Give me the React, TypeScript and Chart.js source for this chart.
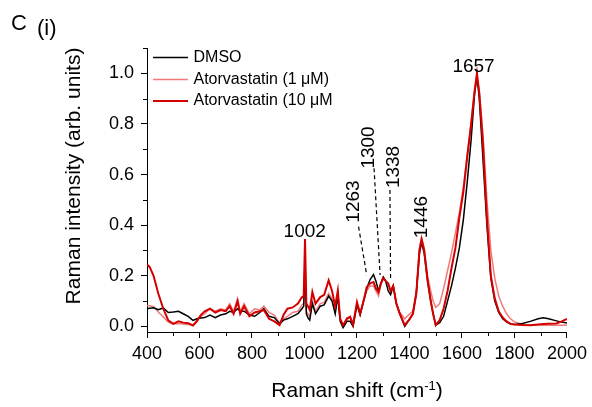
import { useEffect, useRef } from 'react';
import { Chart, registerables } from 'chart.js';

Chart.register(...registerables);

const FONT = '"Liberation Sans", Arial, Helvetica, sans-serif';

const wavenumbers = [
  400, 410, 425, 443, 462, 481, 500, 520, 538, 557, 575, 590, 605, 620, 640, 660, 680, 700, 715, 730,
  745, 755, 770, 790, 810, 830, 845, 865, 885, 905, 920, 935, 955, 975, 990, 997, 1002, 1007, 1013, 1020,
  1030, 1042, 1060, 1075, 1092, 1105, 1117, 1127, 1136, 1147, 1162, 1174, 1185, 1200, 1212, 1225, 1237, 1250, 1263, 1272,
  1282, 1291, 1300, 1309, 1319, 1328, 1338, 1350, 1363, 1382, 1401, 1413, 1426, 1438, 1446, 1456, 1469, 1481, 1490, 1500,
  1515, 1530, 1545, 1560, 1575, 1590, 1605, 1620, 1635, 1648, 1657, 1666, 1680, 1695, 1710, 1725, 1740, 1755, 1770, 1785,
  1800, 1830, 1860, 1890, 1910, 1930, 1960, 1980, 2000,
];

const dmso = [
  0.070, 0.072, 0.074, 0.066, 0.073, 0.055, 0.057, 0.060, 0.050, 0.040, 0.024, 0.030, 0.033, 0.035, 0.045, 0.035, 0.045, 0.050, 0.060, 0.055,
  0.070, 0.060, 0.060, 0.045, 0.040, 0.055, 0.070, 0.040, 0.035, 0.010, 0.025, 0.030, 0.040, 0.050, 0.070, 0.080, 0.240, 0.050, 0.035, 0.025,
  0.090, 0.050, 0.080, 0.085, 0.120, 0.100, 0.050, 0.120, 0.020, -0.005, 0.020, 0.020, 0.000, 0.085, 0.045, 0.100, 0.150, 0.185, 0.205, 0.180,
  0.140, 0.170, 0.195, 0.180, 0.140, 0.125, 0.160, 0.090, 0.050, 0.000, 0.030, 0.050, 0.130, 0.290, 0.330, 0.290, 0.180, 0.100, 0.050, 0.005,
  0.015, 0.040, 0.100, 0.160, 0.230, 0.310, 0.420, 0.570, 0.740, 0.920, 0.990, 0.900, 0.660, 0.400, 0.190, 0.100, 0.055, 0.030, 0.018, 0.010,
  0.008, 0.012, 0.020, 0.030, 0.034, 0.030, 0.022, 0.017, 0.014,
];

const atorva1 = [
  0.083, 0.082, 0.078, 0.057, 0.037, 0.017, 0.010, 0.012, 0.010, 0.008, 0.005, 0.025, 0.040, 0.050, 0.070, 0.060, 0.070, 0.065, 0.090, 0.060,
  0.110, 0.060, 0.090, 0.050, 0.070, 0.065, 0.080, 0.055, 0.045, 0.015, 0.030, 0.040, 0.055, 0.060, 0.085, 0.090, 0.270, 0.060, 0.050, 0.040,
  0.100, 0.060, 0.090, 0.095, 0.130, 0.110, 0.060, 0.130, 0.030, 0.005, 0.035, 0.035, 0.010, 0.090, 0.050, 0.100, 0.140, 0.160, 0.160, 0.140,
  0.120, 0.165, 0.195, 0.180, 0.165, 0.140, 0.160, 0.090, 0.055, 0.030, 0.050, 0.060, 0.140, 0.310, 0.350, 0.310, 0.200, 0.140, 0.100, 0.075,
  0.090, 0.150, 0.220, 0.290, 0.370, 0.450, 0.550, 0.680, 0.810, 0.930, 0.990, 0.930, 0.760, 0.500, 0.300, 0.190, 0.120, 0.080, 0.050, 0.030,
  0.018, 0.008, 0.006, 0.006, 0.005, 0.005, 0.005, 0.005, 0.005,
];

const atorva10 = [
  0.245, 0.235, 0.200, 0.130, 0.070, 0.024, 0.010, 0.020, 0.015, 0.013, 0.004, 0.020, 0.045, 0.060, 0.070, 0.055, 0.065, 0.060, 0.080, 0.050,
  0.100, 0.050, 0.080, 0.040, 0.055, 0.060, 0.065, 0.030, 0.020, 0.005, 0.045, 0.070, 0.075, 0.090, 0.115, 0.120, 0.345, 0.090, 0.080, 0.065,
  0.136, 0.090, 0.116, 0.125, 0.182, 0.140, 0.080, 0.142, 0.030, 0.005, 0.030, 0.038, 0.006, 0.096, 0.050, 0.100, 0.155, 0.170, 0.175, 0.150,
  0.135, 0.170, 0.190, 0.180, 0.170, 0.140, 0.160, 0.090, 0.050, 0.005, 0.030, 0.050, 0.130, 0.300, 0.345, 0.300, 0.180, 0.100, 0.050, 0.005,
  0.025, 0.070, 0.140, 0.230, 0.310, 0.430, 0.530, 0.670, 0.800, 0.930, 1.000, 0.920, 0.720, 0.430, 0.200, 0.110, 0.060, 0.035, 0.020, 0.010,
  0.008, 0.006, 0.005, 0.008, 0.010, 0.011, 0.012, 0.020, 0.030,
];

const seriesLabels = ['DMSO', 'Atorvastatin (1 \u03bcM)', 'Atorvastatin (10 \u03bcM'];
const seriesColors = ['#000000', 'rgb(242,122,122)', 'rgb(212,0,0)'];
const seriesWidths = [1.5, 1.5, 2];

const xTicks = [400, 600, 800, 1000, 1200, 1400, 1600, 1800, 2000];
const xMinorTicks = [500, 700, 900, 1100, 1300, 1500, 1700, 1900];
const yTicks = [0, 0.2, 0.4, 0.6, 0.8, 1.0];
const yMinorTicks = [0.1, 0.3, 0.5, 0.7, 0.9, 1.1];

const peakLabels = ['1002', '1263', '1300', '1338', '1446', '1657'];
const peakLabelX = [1001, 1189, 1245, 1342, 1446, 1644];
const peakLabelY = [0.375, 0.4935, 0.707, 0.63, 0.432, 1.025];
const peakLabelRotated = [false, true, true, true, true, false];

const leaderStartX = [1206, 1265, 1325.5];
const leaderStartY = [0.394, 0.625, 0.539];
const leaderEndX = [1237, 1288, 1328];
const leaderEndY = [0.203, 0.203, 0.187];

const overlayPlugin = {
  id: 'overlay',
  afterDraw(chart: any) {
    const { ctx, chartArea, scales } = chart;
    const xs = scales.x;
    const ys = scales.y;
    ctx.save();

    // minor ticks
    ctx.strokeStyle = '#000';
    ctx.lineWidth = 1;
    xMinorTicks.forEach((v) => {
      const p = Math.round(xs.getPixelForValue(v)) + 0.5;
      ctx.beginPath();
      ctx.moveTo(p, chartArea.bottom);
      ctx.lineTo(p, chartArea.bottom + 4);
      ctx.stroke();
    });
    yMinorTicks.forEach((v) => {
      const p = Math.round(ys.getPixelForValue(v)) + 0.5;
      ctx.beginPath();
      ctx.moveTo(chartArea.left, p);
      ctx.lineTo(chartArea.left - 4, p);
      ctx.stroke();
    });

    // dashed leader lines
    ctx.setLineDash([4, 3]);
    ctx.lineWidth = 1.2;
    for (let i = 0; i < leaderStartX.length; i++) {
      ctx.beginPath();
      ctx.moveTo(xs.getPixelForValue(leaderStartX[i]), ys.getPixelForValue(leaderStartY[i]));
      ctx.lineTo(xs.getPixelForValue(leaderEndX[i]), ys.getPixelForValue(leaderEndY[i]));
      ctx.stroke();
    }
    ctx.setLineDash([]);

    // peak labels
    ctx.fillStyle = '#000';
    ctx.font = `19px ${FONT}`;
    ctx.textAlign = 'center';
    ctx.textBaseline = 'middle';
    peakLabels.forEach((t, i) => {
      const px = xs.getPixelForValue(peakLabelX[i]);
      const py = ys.getPixelForValue(peakLabelY[i]);
      ctx.save();
      ctx.translate(px, py);
      if (peakLabelRotated[i]) ctx.rotate(-Math.PI / 2);
      ctx.fillText(t, 0, 0);
      ctx.restore();
    });

    // legend
    const rowY = [chartArea.top + 9.5, chartArea.top + 31.5, chartArea.top + 53];
    ctx.font = `16px ${FONT}`;
    ctx.textAlign = 'left';
    ctx.textBaseline = 'middle';
    seriesLabels.forEach((lab, i) => {
      ctx.strokeStyle = seriesColors[i];
      ctx.lineWidth = seriesWidths[i];
      ctx.beginPath();
      ctx.moveTo(chartArea.left + 6, rowY[i]);
      ctx.lineTo(chartArea.left + 41, rowY[i]);
      ctx.stroke();
      ctx.fillStyle = '#000';
      ctx.fillText(lab, chartArea.left + 46.5, rowY[i]);
    });

    // y axis title
    ctx.save();
    ctx.font = `21px ${FONT}`;
    ctx.textAlign = 'center';
    ctx.textBaseline = 'alphabetic';
    ctx.translate(80, 176);
    ctx.rotate(-Math.PI / 2);
    ctx.fillText('Raman intensity (arb. units)', 0, 0);
    ctx.restore();

    // x axis title with superscript
    const main = 'Raman shift (cm';
    const sup = '-1';
    const close = ')';
    ctx.textAlign = 'left';
    ctx.textBaseline = 'alphabetic';
    ctx.font = `21px ${FONT}`;
    const w1 = ctx.measureText(main).width;
    const w3 = ctx.measureText(close).width;
    ctx.font = `13px ${FONT}`;
    const w2 = ctx.measureText(sup).width;
    const total = w1 + w2 + w3;
    const cx = (chartArea.left + chartArea.right) / 2;
    let x0 = cx - total / 2;
    const base = 397;
    ctx.font = `21px ${FONT}`;
    ctx.fillText(main, x0, base);
    ctx.font = `13px ${FONT}`;
    ctx.fillText(sup, x0 + w1, base - 7.5);
    ctx.font = `21px ${FONT}`;
    ctx.fillText(close, x0 + w1 + w2, base);

    // panel labels
    ctx.font = `22px ${FONT}`;
    ctx.fillText('C', 11, 30);
    ctx.fillText('(i)', 37, 34.5);

    ctx.restore();
  },
};

export default function App() {
  const ref = useRef<HTMLCanvasElement | null>(null);

  useEffect(() => {
    document.body.style.margin = '0';
    const canvas = ref.current;
    if (!canvas) return;
    const seriesValues = [dmso, atorva1, atorva10];
    const orders = [1, 2, 0];
    const chart = new Chart(canvas, {
      type: 'line',
      data: {
        datasets: seriesValues.map((vals, i) => ({
          label: seriesLabels[i],
          data: wavenumbers.map((w, j) => ({ x: w, y: vals[j] })),
          borderColor: seriesColors[i],
          borderWidth: seriesWidths[i],
          pointRadius: 0,
          tension: 0,
          fill: false,
          order: orders[i],
        })),
      },
      options: {
        responsive: false,
        animation: false,
        devicePixelRatio: 1,
        layout: { padding: { left: 0, right: 22, top: 48, bottom: 0 } },
        plugins: {
          legend: { display: false },
          tooltip: { enabled: false },
          title: { display: false },
        },
        scales: {
          x: {
            type: 'linear',
            min: 400,
            max: 2000,
            afterBuildTicks: (scale: any) => {
              scale.ticks = xTicks.map((v) => ({ value: v }));
            },
            afterFit: (scale: any) => {
              scale.height = 75;
            },
            ticks: {
              color: '#000',
              font: { family: FONT, size: 18 },
              padding: 5,
              maxRotation: 0,
              autoSkip: false,
              callback: (v: any) => String(v),
            },
            grid: {
              display: true,
              drawOnChartArea: false,
              drawTicks: true,
              tickLength: 6,
              color: '#000',
              lineWidth: 1,
            },
            border: { display: true, color: '#000', width: 1 },
          },
          y: {
            type: 'linear',
            min: -0.022,
            max: 1.1,
            afterBuildTicks: (scale: any) => {
              scale.ticks = yTicks.map((v) => ({ value: v }));
            },
            afterFit: (scale: any) => {
              scale.width = 147;
            },
            ticks: {
              color: '#000',
              font: { family: FONT, size: 18 },
              padding: 7,
              autoSkip: false,
              callback: (v: any) => Number(v).toFixed(1),
            },
            grid: {
              display: true,
              drawOnChartArea: false,
              drawTicks: true,
              tickLength: 6,
              color: '#000',
              lineWidth: 1,
            },
            border: { display: true, color: '#000', width: 1 },
          },
        },
      },
      plugins: [overlayPlugin],
    });
    return () => chart.destroy();
  }, []);

  return <canvas ref={ref} width={592} height={407} style={{ display: 'block' }} />;
}
